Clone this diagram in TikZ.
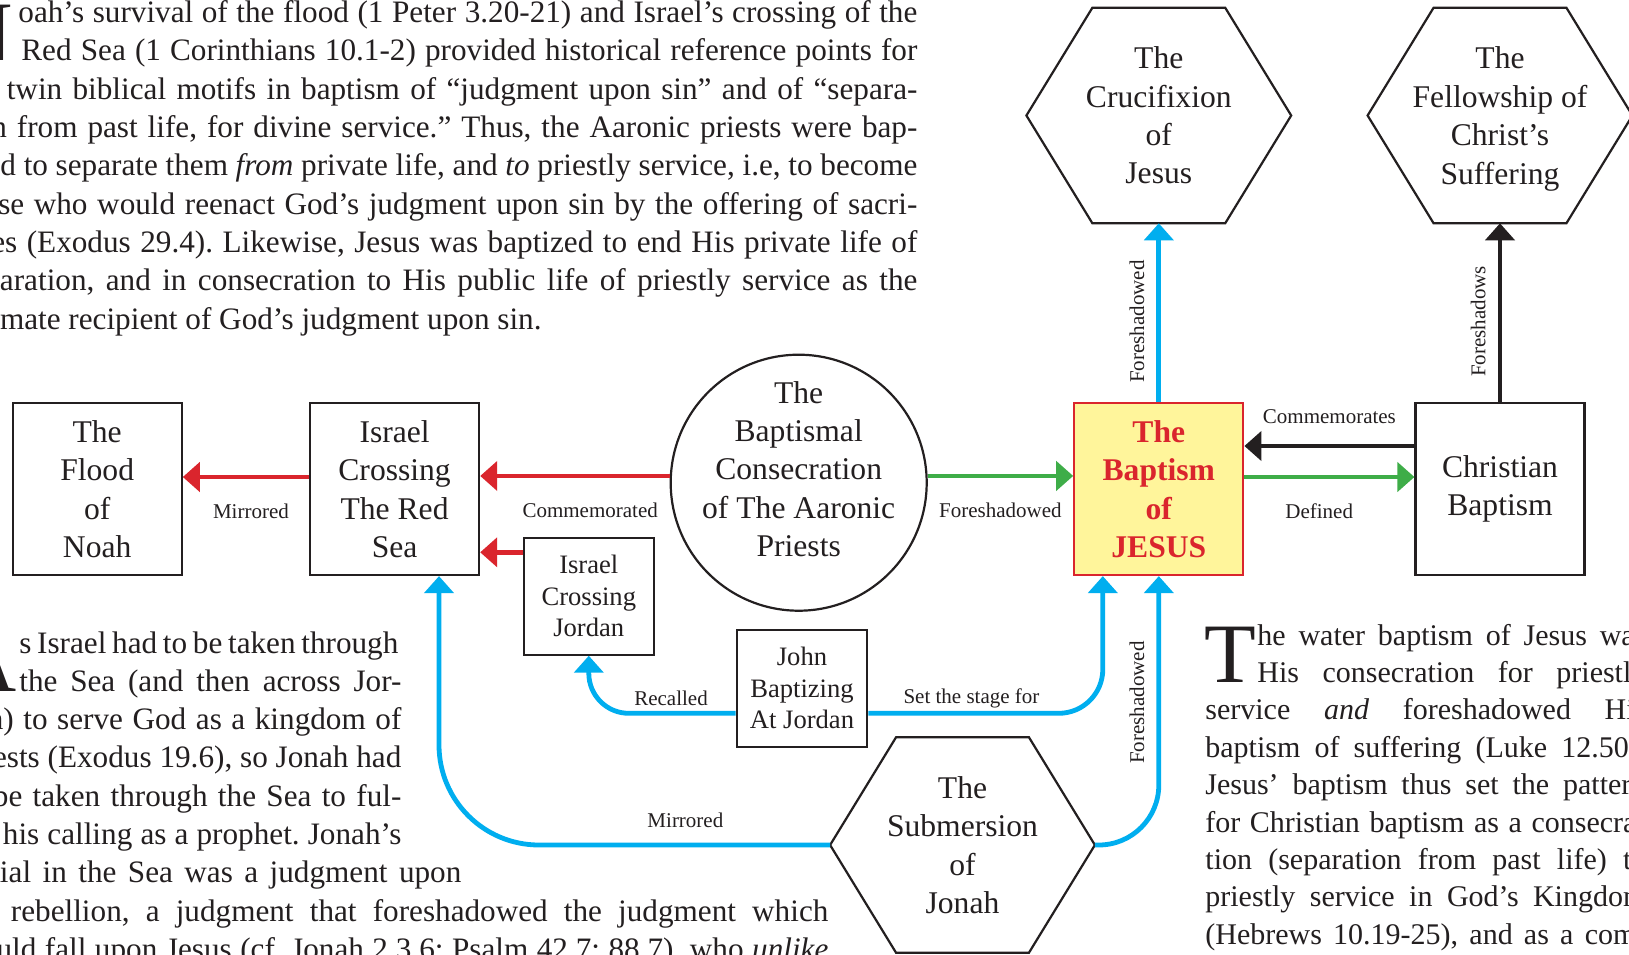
\documentclass[tikz,border=0pt]{standalone}
\usepackage{fontspec}
\setmainfont{Liberation Serif}
\usepackage{tikz}
\usetikzlibrary{arrows.meta}
\frenchspacing
\definecolor{rd}{RGB}{218,37,45}
\definecolor{gn}{RGB}{62,173,72}
\definecolor{bl}{RGB}{0,174,239}
\definecolor{bk}{RGB}{35,31,32}
\definecolor{yl}{RGB}{255,245,155}
\tikzset{big/.style={inner sep=0pt,align=center,text=bk,font=\fontsize{15.8}{19.2}\selectfont},
 bx/.style={big,draw=bk,line width=1.1pt,minimum width=84.5pt,minimum height=86pt},
 sbx/.style={bx,minimum width=65.2pt,minimum height=58.3pt,font=\fontsize{13.3}{15.75}\selectfont},
 jbx/.style={bx,draw=rd,fill=yl,text=rd,font=\fontsize{15.8}{19.2}\selectfont\bfseries},
 circ/.style={draw=bk,circle,line width=1.1pt,minimum size=128pt,inner sep=0pt},
 hexn/.style={big,minimum width=132pt,minimum height=107.4pt},
 hexline/.style={draw=bk,line width=1.1pt},
 lbl/.style={inner sep=0pt,text=bk,font=\fontsize{10.5}{12}\selectfont},
 txt/.style={inner sep=0pt,anchor=base west,text=bk,font=\fontsize{15.6}{19}\selectfont},
 rtxt/.style={txt,font=\fontsize{15}{19}\selectfont},
 dropcap/.style={inner sep=0pt,text=bk,font=\fontsize{42.3}{44}\selectfont},
 arr/.style={line width=2.4pt,-{Triangle[length=8.5pt,width=14.5pt]}},
 redarr/.style={arr,color=rd},grnarr/.style={arr,color=gn},
 bluarr/.style={arr,color=bl},blkarr/.style={arr,color=bk}}
\begin{document}
\begin{tikzpicture}[x=0.5pt,y=-0.5pt]
\useasboundingbox (0,0) rectangle (1629,954);
\clip (0,0) rectangle (1629,954);
\fill[white] (0,0) rectangle (1629,954);
\node[bx] (flood) at (97.2,489) {The\\Flood\\of\\Noah};
\node[bx] (redsea) at (394.6,489) {Israel\\Crossing\\The Red\\Sea};
\node[circ] (aaron) at (798.7,482.7) {};
\node[big] (aarontxt) at (798.7,469) {The\\Baptismal\\Consecration\\of The Aaronic\\Priests};
\node[sbx] (jordan) at (588.8,596.3) {Israel\\Crossing\\Jordan};
\node[sbx] (john) at (802,688.3) {John\\Baptizing\\At Jordan};
\node[jbx] (jesus) at (1158.8,489) {The\\Baptism\\of\\JESUS};
\node[bx] (christian) at (1500,489) {Christian\\Baptism};
\node[hexn] (cruc) at (1158.8,115.5) {The\\Crucifixion\\of\\Jesus};
\node[hexn,text depth=0pt] (fellow) at (1500,115.5) {The\\Fellowship of\\Christ’s\\Suffering};
\node[hexn] (jonah) at (962.5,845) {The\\Submersion\\of\\Jonah};
\foreach \h in {cruc,fellow,jonah}{\draw[hexline] (\h.west)--([xshift=33pt]\h.north west)--([xshift=-33pt]\h.north east)--(\h.east)--([xshift=-33pt]\h.south east)--([xshift=33pt]\h.south west)--cycle;}
\draw[redarr] ([yshift=6pt]redsea.west)--([yshift=6pt]flood.east) node[lbl,pos=.46,yshift=-17pt]{Mirrored};
\draw[redarr] (aaron.177)--(aaron.177-|redsea.east) node[lbl,pos=.42,yshift=-17pt]{Commemorated};
\draw[redarr] ([yshift=22pt]jordan.west)--([yshift=22pt]jordan.west-|redsea.east);
\draw[grnarr] (aaron.3)--(aaron.3-|jesus.west) node[lbl,midway,yshift=-17pt]{Foreshadowed};
\draw[grnarr] ([yshift=6pt]jesus.east)--([yshift=6pt]christian.west) node[lbl,pos=.44,yshift=-17pt]{Defined};
\draw[blkarr] ([yshift=21.5pt]christian.west)--([yshift=21.5pt]jesus.east) node[lbl,midway,yshift=14.5pt]{Commemorates};
\draw[blkarr] (christian.north)--(fellow.south) node[lbl,pos=.45,sloped,above=6pt]{Foreshadows};
\draw[bluarr] (jesus.north)--(cruc.south) node[lbl,pos=.45,sloped,above=6pt]{Foreshadowed};
\draw[bluarr,rounded corners=20pt] ([yshift=-12.5pt]john.west)-|(jordan.south) node[lbl,pos=.22,yshift=7.5pt]{Recalled};
\draw[bluarr,rounded corners=22pt] ([yshift=-12.5pt]john.east)-|([xshift=-28pt]jesus.south) node[lbl,pos=.22,yshift=7.5pt]{Set the stage for};
\draw[bluarr,rounded corners=50pt] (jonah.west)-|([xshift=22.2pt]redsea.south) node[lbl,pos=.185,yshift=12.5pt]{Mirrored};
\draw[bluarr,rounded corners=30pt] (jonah.east)-|(jesus.south) node[lbl,pos=.765,sloped,above=6pt]{Foreshadowed};
\node[dropcap,anchor=base east] (capN) at (13,60.9) {N};
\node[txt] (pa) at (18,22.6) {\makebox[449.5pt][s]{oah’s survival of the flood (1 Peter 3.20-21) and Israel’s crossing of the}};
\node[txt] (pb) at (21,60.9) {\makebox[448pt][s]{Red Sea (1 Corinthians 10.1-2) provided historical reference points for}};
\node[txt] (pc) at (-42,99.2) {\makebox[479.5pt][s]{the twin biblical motifs in baptism of “judgment upon sin” and of “separa-}};
\node[txt] (pd) at (-42,137.5) {\makebox[479.5pt][s]{tion from past life, for divine service.” Thus, the Aaronic priests were bap-}};
\node[txt] (pe) at (-45,175.8) {\makebox[481pt][s]{tized to separate them \textit{from} private life, and \textit{to} priestly service, i.e, to become}};
\node[txt] (pf) at (-42,214.1) {\makebox[479.5pt][s]{those who would reenact God’s judgment upon sin by the offering of sacri-}};
\node[txt] (pg) at (-42,252.4) {\makebox[479.5pt][s]{fices (Exodus 29.4). Likewise, Jesus was baptized to end His private life of}};
\node[txt] (ph) at (-42,290.7) {\makebox[479.5pt][s]{separation, and in consecration to His public life of priestly service as the}};
\node[txt] (pi) at (-42,329) {ultimate recipient of God’s judgment upon sin.};
\node[dropcap,anchor=base east] (capA) at (17,691.3) {A};
\node[txt] (qa) at (19,653) {\makebox[189.5pt][s]{s Israel had to be taken through}};
\node[txt] (qb) at (19,691.3) {\makebox[191pt][s]{the Sea (and then across Jor-}};
\node[txt] (qc) at (-42,729.6) {\makebox[221.5pt][s]{dan) to serve God as a kingdom of}};
\node[txt] (qd) at (-42,767.9) {\makebox[221.5pt][s]{priests (Exodus 19.6), so Jonah had}};
\node[txt] (qe) at (-42,806.2) {\makebox[221.5pt][s]{to be taken through the Sea to ful-}};
\node[txt] (qf) at (-42,844.5) {\makebox[221.5pt][s]{fill his calling as a prophet. Jonah’s}};
\node[txt] (qg) at (-42,882.8) {\makebox[251.5pt][s]{burial in the Sea was a judgment upon}};
\node[txt] (qh) at (-42,921.1) {\makebox[435pt][s]{his rebellion, a judgment that foreshadowed the judgment which}};
\node[txt] (qi) at (-42,959.4) {\makebox[435pt][s]{would fall upon Jesus (cf. Jonah 2.3,6; Psalm 42.7; 88.7), who \textit{unlike}}};
\node[dropcap,anchor=base west] (capT) at (1204,682.4) {T};
\node[rtxt] (ra) at (1257,645) {\makebox[194.5pt][s]{he water baptism of Jesus was}};
\node[rtxt] (rb) at (1257,682.4) {\makebox[194.5pt][s]{His consecration for priestly}};
\node[rtxt] (rc) at (1205,719.8) {\makebox[220.5pt][s]{service \textit{and} foreshadowed His}};
\node[rtxt] (rd) at (1205,757.2) {\makebox[220.5pt][s]{baptism of suffering (Luke 12.50).}};
\node[rtxt] (re) at (1205,794.6) {\makebox[220.5pt][s]{Jesus’ baptism thus set the pattern}};
\node[rtxt] (rf) at (1205,832) {\makebox[220.5pt][s]{for Christian baptism as a consecra-}};
\node[rtxt] (rg) at (1205,869.4) {\makebox[220.5pt][s]{tion (separation from past life) to}};
\node[rtxt] (rh) at (1205,906.8) {\makebox[220.5pt][s]{priestly service in God’s Kingdom}};
\node[rtxt] (ri) at (1205,944.2) {\makebox[220.5pt][s]{(Hebrews 10.19-25), and as a com-}};
\end{tikzpicture}
\end{document}
